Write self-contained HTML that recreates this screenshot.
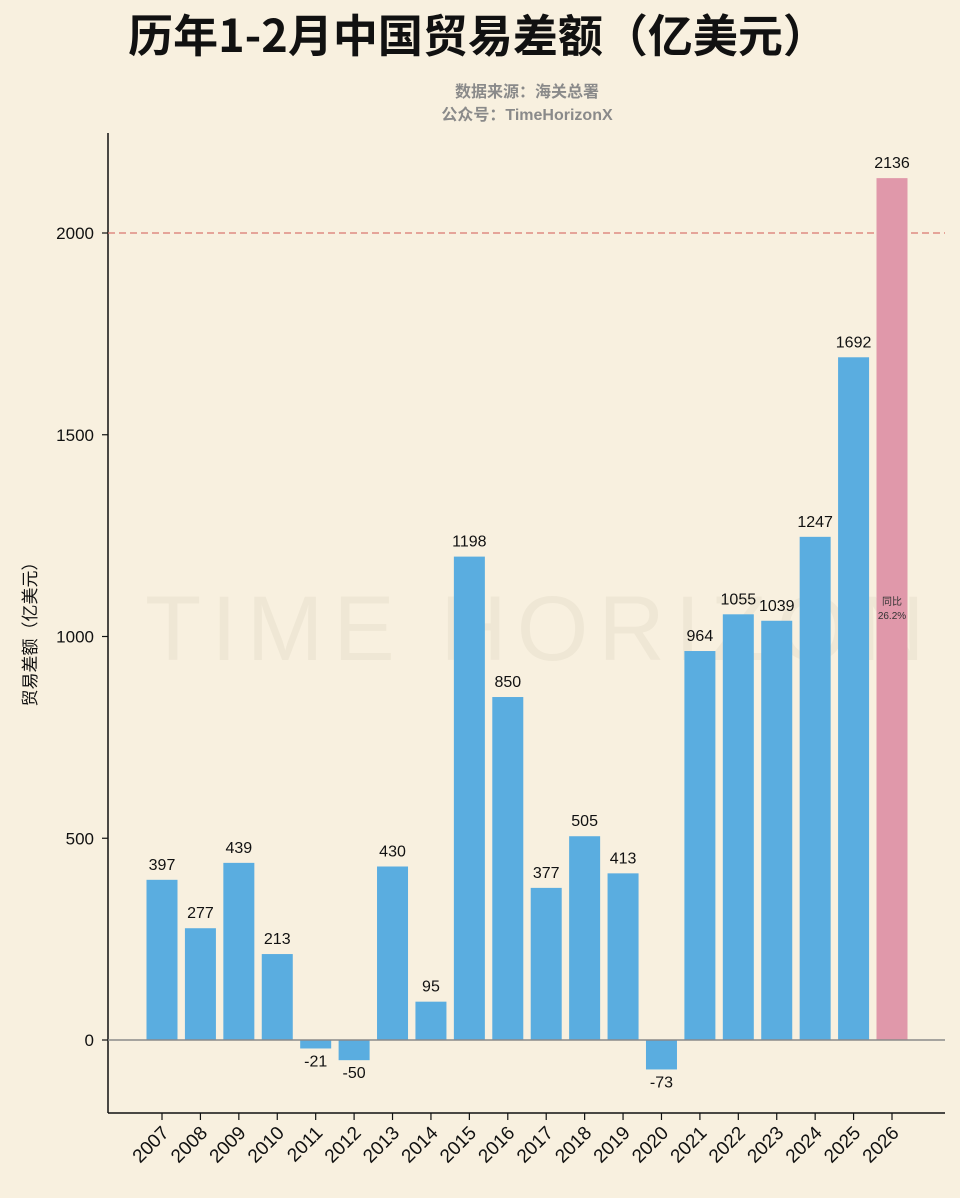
<!DOCTYPE html>
<html><head><meta charset="utf-8">
<style>
body{margin:0;background:#f8f0df;width:960px;height:1198px;overflow:hidden;font-family:"Liberation Sans","Noto Sans CJK SC",sans-serif;}
svg{display:block}
</style></head>
<body>
<svg id="chart" width="960" height="1198">
<rect x="0" y="0" width="960" height="1198" fill="#f8f0df"/>
<text x="478" y="52" text-anchor="middle" font-size="45" font-weight="bold" fill="#111" font-family="'Noto Sans CJK SC',sans-serif">历年1-2月中国贸易差额（亿美元）</text>
<text x="527" y="97" text-anchor="middle" font-size="16" font-weight="bold" fill="#8a8a8a" font-family="'Noto Sans CJK SC',sans-serif">数据来源：海关总署</text>
<text x="527" y="120" text-anchor="middle" font-size="16" font-weight="bold" fill="#8a8a8a" font-family="'Liberation Sans','Noto Sans CJK SC',sans-serif">公众号：TimeHorizonX</text>
<text x="145" y="660" font-size="92" fill="#efe7d5" letter-spacing="10">TIME HORIZON</text>
<text transform="translate(36,630) rotate(-90)" text-anchor="middle" font-size="17" fill="#111" font-family="'Noto Sans CJK SC',sans-serif">贸易差额（亿美元）</text>
<g id="plot"></g>
</svg>
<script>
const years=["2007","2008","2009","2010","2011","2012","2013","2014","2015","2016","2017","2018","2019","2020","2021","2022","2023","2024","2025","2026"];
const values=[397,277,439,213,-21,-50,430,95,1198,850,377,505,413,-73,964,1055,1039,1247,1692,2136];
const yTicks=[0,500,1000,1500,2000];
const refValue=2000;
const NS="http://www.w3.org/2000/svg";
const g=document.getElementById('plot');
const y=v=>1040-v*(807/2000);
const x=i=>162+i*(730/19);
function mk(t,a){const e=document.createElementNS(NS,t);for(const k in a)e.setAttribute(k,a[k]);g.appendChild(e);return e;}
let e=mk('line',{x1:108,y1:133,x2:108,y2:1113,stroke:'#111','stroke-width':1.5});


e=mk('line',{x1:108,y1:1113,x2:945,y2:1113,stroke:'#111','stroke-width':1.5});


yTicks.forEach(v=>{
 let t=mk('line',{x1:102,x2:108,y1:y(v),y2:y(v),stroke:'#111','stroke-width':1.2});
 
 
 let l=mk('text',{x:94,y:y(v)+6,'text-anchor':'end','font-size':17,fill:'#111'});
 l.textContent=v;
 
 
});
e=mk('line',{x1:108,x2:945,y1:y(refValue),y2:y(refValue),stroke:'#d9776f','stroke-width':1.3,'stroke-dasharray':'7,4'});


values.forEach((v,i)=>{
 const cx=x(i),last=i===values.length-1;
 const top=Math.min(y(v),y(0)),h=Math.abs(y(v)-y(0));
 let b=mk('rect',{x:cx-15.5,y:top,width:31,height:h,fill:last?'#e098aa':'#5aade0'});
 
 
 let l=mk('text',{x:cx,y:v>=0?y(v)-10:y(v)+18,'text-anchor':'middle','font-size':16,fill:'#111'});
 l.textContent=v;
 
 
 let t=mk('line',{x1:cx,x2:cx,y1:1113,y2:1120,stroke:'#111','stroke-width':1.2});
 
 
 let xl=mk('text',{transform:`translate(${cx+8},${1134}) rotate(-45)`,'text-anchor':'end','font-size':19,fill:'#111'});
 xl.textContent=years[i];
 
 
});
e=mk('line',{x1:108,x2:945,y1:y(0),y2:y(0),stroke:'#8a8a8a','stroke-width':1.5});


const ax=x(values.length-1);
e=mk('text',{x:ax,y:605,'text-anchor':'middle','font-size':10,fill:'#333','font-family':"'Noto Sans CJK SC',sans-serif"});
e.textContent='同比';


e=mk('text',{x:ax,y:619,'text-anchor':'middle','font-size':10,fill:'#333'});
e.textContent='26.2%';


</script>
</body></html>
